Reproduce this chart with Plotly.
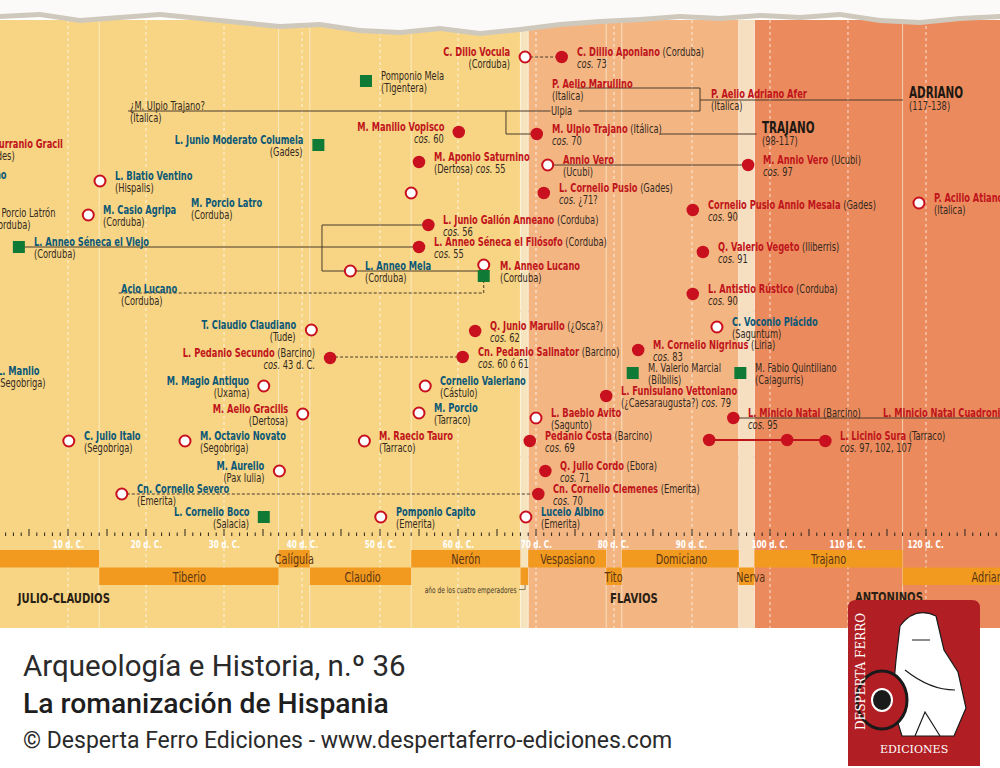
import plotly.graph_objects as go

# ---------------- visible span of the time axis (years) ----------------
XMIN, XMAX = 1.28, 129.49

# ---------------- timeline ----------------
tick_years = [10, 20, 30, 40, 50, 60, 70, 80, 90, 100, 110, 120, 130]
tick_labels = ["10 d. C.", "20 d. C.", "30 d. C.", "40 d. C.", "50 d. C.", "60 d. C.", "70 d. C.",
               "80 d. C.", "90 d. C.", "100 d. C.", "110 d. C.", "120 d. C.", "130 d. C."]

# ---------------- dynasties ----------------
dyn_names = ["JULIO-CLAUDIOS", "FLAVIOS", "ANTONINOS"]
dyn_start = [-27, 69, 98]
dyn_end = [68, 96, 192]
dyn_label_year = [3.2, 82.6, 110.9]
gap_start = [68, 96]
gap_end = [69, 98]

# ---------------- emperors ----------------
emperors = ["Augusto", "Tiberio", "Calígula", "Claudio", "Nerón", "", "Vespasiano", "Tito",
            "Domiciano", "Nerva", "Trajano", "Adriano"]
emp_start = [-27, 14, 37, 41, 54, 68, 69, 79, 81, 96, 98, 117]
emp_end = [14, 37, 41, 54, 68, 69, 79, 81, 96, 98, 117, 138]
emp_row = [1, 2, 1, 2, 1, 2, 1, 2, 1, 2, 1, 2]
emp_label_year = [-6, 25.5, 39, 47.8, 61, 68.5, 74, 80, 88.6, 97.6, 107.5, 128.3]

# ---------------- people: (name, place, second line, year, lane, mark, rank) ----------------
# mark: cos = cónsul, open = otro cargo, sq = escritor, none = sin marca
# rank: sen = senatorial (red), eq = ecuestre (teal), lit = otros (dark)
people_top = [
    ("C. Dilio Vocula", "", "(Corduba)", 68.6, 57, "open", "sen"),
    ("C. Dillio Aponiano", "(Corduba)", "cos. 73", 73.3, 57, "cos", "sen"),
    ("Pomponio Mela", "", "(Tigentera)", 48.2, 81, "sq", "lit"),
    ("P. Aelio Marullino", "", "(Italica)", 71.8, 89, "none", "sen"),
    ("P. Aelio Adriano Afer", "", "(Italica)", 92.2, 99, "none", "sen"),
    ("¿M. Ulpio Trajano?", "", "(Italica)", 17.7, 111, "none", "lit"),
    ("M. Manilio Vopisco", "", "cos. 60", 60.1, 132, "cos", "sen"),
    ("M. Ulpio Trajano", "(Itálica)", "cos. 70", 70.1, 134, "cos", "sen"),
    ("C. Turranio Gracil", "", "(Gades)", -1.3, 149, "none", "sen"),
    ("L. Junio Moderato Columela", "", "(Gades)", 42.1, 145, "sq", "eq"),
    ("M. Aponio Saturnino", "", "(Dertosa) cos. 55", 55.0, 162, "cos", "sen"),
    ("Annio Vero", "", "(Ucubi)", 71.5, 165, "open", "sen"),
    ("M. Annio Vero", "(Ucubi)", "cos. 97", 97.2, 165, "cos", "sen"),
    ("Cornelio Balbo Gaditano", "", "", 2.3, 180, "none", "eq"),
    ("L. Blatio Ventino", "", "(Hispalis)", 14.1, 181, "open", "eq"),
    ("L. Cornelio Pusio", "(Gades)", "cos. ¿71?", 71.0, 193, "cos", "sen"),
    ("", "", "", 54.0, 193, "open", "sen"),
    ("P. Acilio Atiano", "", "(Italica)", 119.1, 203, "open", "sen"),
    ("M. Porcio Latro", "", "(Corduba)", 25.5, 208, "none", "eq"),
    ("M. Casio Agripa", "", "(Corduba)", 12.6, 215, "open", "eq"),
    ("M. Porcio Latrón", "", "(Corduba)", -0.35, 218, "none", "lit"),
    ("Cornelio Pusio Annio Mesala", "(Gades)", "cos. 90", 90.1, 210, "cos", "sen"),
    ("L. Junio Galión Anneano", "(Corduba)", "cos. 56", 56.2, 225, "cos", "sen"),
    ("L. Anneo Séneca el Filósofo", "(Corduba)", "cos. 55", 55.0, 247, "cos", "sen"),
    ("L. Anneo Séneca el Viejo", "", "(Corduba)", 3.7, 247, "sq", "eq"),
    ("Q. Valerio Vegeto", "(Iliberris)", "cos. 91", 91.4, 252, "cos", "sen"),
    ("L. Anneo Mela", "", "(Corduba)", 46.2, 271, "open", "eq"),
    ("M. Anneo Lucano", "", "(Corduba)", 65.1, 271, "none", "sen"),
    ("", "", "", 63.3, 265, "open", "sen"),
    ("", "", "", 63.3, 276, "sq", "lit"),
    ("Acio Lucano", "", "(Corduba)", 16.5, 294, "none", "eq"),
    ("L. Antistio Rústico", "(Corduba)", "cos. 90", 90.1, 294, "cos", "sen"),
]
people_mid = [
    ("T. Claudio Claudiano", "", "(Tude)", 41.2, 330, "open", "eq"),
    ("Q. Junio Marullo", "(¿Osca?)", "cos. 62", 62.2, 331, "cos", "sen"),
    ("C. Voconio Plácido", "", "(Saguntum)", 93.2, 327, "open", "eq"),
    ("M. Cornelio Nigrinus", "(Liria)", "cos. 83", 83.1, 350, "cos", "sen"),
    ("L. Pedanio Secundo", "(Barcino)", "cos. 43 d. C.", 43.6, 358, "cos", "sen"),
    ("Cn. Pedanio Salinator", "(Barcino)", "cos. 60 ó 61", 60.6, 357, "cos", "sen"),
    ("L. Manlio", "", "(Segobriga)", 0.64, 376, "none", "eq"),
    ("M. Magio Antiquo", "", "(Uxama)", 35.1, 386, "open", "eq"),
    ("Cornelio Valeriano", "", "(Cástulo)", 55.8, 386, "open", "eq"),
    ("M. Valerio Marcial", "", "(Bílbilis)", 82.4, 373, "sq", "lit"),
    ("M. Fabio Quintiliano", "", "(Calagurris)", 96.2, 373, "sq", "lit"),
    ("L. Funisulano Vettoniano", "", "(¿Caesaraugusta?) cos. 79", 79.0, 396, "cos", "sen"),
    ("M. Aelio Gracilis", "", "(Dertosa)", 40.1, 414, "open", "sen"),
    ("M. Porcio", "", "(Tarraco)", 55.0, 413, "open", "eq"),
    ("L. Baebio Avito", "", "(Sagunto)", 70.0, 418, "open", "sen"),
    ("L. Minicio Natal", "(Barcino)", "cos. 95", 95.3, 418, "cos", "sen"),
    ("L. Minicio Natal Cuadronio Vero", "", "", 114.2, 418, "none", "sen"),
    ("C. Julio Italo", "", "(Segobriga)", 10.1, 441, "open", "eq"),
    ("M. Octavio Novato", "", "(Segobriga)", 25.0, 441, "open", "eq"),
    ("M. Raecio Tauro", "", "(Tarraco)", 48.0, 441, "open", "sen"),
    ("Pedanio Costa", "(Barcino)", "cos. 69", 69.2, 441, "cos", "sen"),
    ("", "", "", 92.2, 440, "cos", "sen"),
    ("", "", "", 102.2, 440, "cos", "sen"),
    ("L. Licinio Sura", "(Tarraco)", "cos. 97, 102, 107", 107.1, 441, "cos", "sen"),
]
people_bottom = [
    ("M. Aurelio", "", "(Pax Iulia)", 37.1, 471, "open", "eq"),
    ("Q. Julio Cordo", "(Ebora)", "cos. 71", 71.2, 471, "cos", "sen"),
    ("Cn. Cornelio Severo", "", "(Emerita)", 16.9, 494, "open", "eq"),
    ("Cn. Cornelio Clemenes", "(Emerita)", "cos. 70", 70.3, 494, "cos", "sen"),
    ("L. Cornelio Boco", "", "(Salacia)", 35.1, 517, "sq", "eq"),
    ("Pomponio Capito", "", "(Emerita)", 50.1, 517, "open", "eq"),
    ("Luceio Albino", "", "(Emerita)", 68.7, 517, "open", "eq"),
]
left_labels = {"C. Dilio Vocula", "M. Manilio Vopisco", "L. Junio Moderato Columela",
               "T. Claudio Claudiano", "L. Pedanio Secundo", "M. Magio Antiquo",
               "M. Aelio Gracilis", "M. Aurelio", "L. Cornelio Boco", "Cornelio Balbo Gaditano"}

rulers = ["ADRIANO", "TRAJANO"]
ruler_years = ["(117-138)", "(98-117)"]
ruler_x = [117.6, 98.7]
ruler_lane = [100, 135]

# family / career links (year, lane polylines)
solid_links = [
    ([17.7, 91.03], [111, 111]),
    ([75.26, 91.03, 91.03], [88, 88, 111]),
    ([91.03, 117.05], [100, 100]),
    ([66.15, 66.15, 70.1], [111, 134, 134]),
    ([85.9, 98.3], [134, 134]),
    ([71.5, 97.2], [165, 165]),
    ([3.7, 55.0], [247, 247]),
    ([56.2, 42.56, 42.56, 63.3], [225, 225, 271, 271]),
    ([95.3, 131.0], [418, 418]),
]
dashed_links = [
    ([68.6, 73.3], [57, 57]),
    ([43.6, 60.6], [357, 357]),
    ([16.5, 63.3, 63.3], [293, 293, 276]),
    ([16.9, 70.3], [494, 494]),
]
red_links = [([92.2, 107.1], [440, 440])]

# ---------------- styling ----------------
FONT = "DejaVu Sans Condensed, sans-serif"
RED = "#C0141B"
TEAL = "#0C5877"
DARK = "#33291E"
RANKCOL = {"sen": RED, "eq": TEAL, "lit": DARK}
ERA_COL = ["#F7D584", "#F3B683", "#EB8B5D"]
GAP_COL = ["#F6E4BE", "#F6DEC0"]
ORANGE = "#F29A1F"
PPY = 1000.0 / (XMAX - XMIN)

fig = go.Figure()
shapes = []
ann = []


def rect(x0, x1, y0, y1, color, xref="x", layer="below", opacity=1.0):
    shapes.append(dict(type="rect", xref=xref, yref="y", x0=x0, x1=x1, y0=y0, y1=y1,
                       fillcolor=color, line=dict(width=0), layer=layer, opacity=opacity))


# backgrounds
for s, e, c in zip(dyn_start, dyn_end, ERA_COL):
    rect(s, e, 20, 628, c)
for s, e, c in zip(gap_start, gap_end, GAP_COL):
    rect(s, e, 20, 628, c)

# vertical guide lines
for y in range(10, 131, 10):
    shapes.append(dict(type="line", xref="x", yref="y", x0=y, x1=y, y0=20, y1=628,
                       line=dict(color="rgba(255,255,255,0.75)", width=1, dash="dot"), layer="below"))
for y in emp_start[1:]:
    shapes.append(dict(type="line", xref="x", yref="y", x0=y, x1=y, y0=20, y1=628,
                       line=dict(color="rgba(255,250,235,0.6)", width=1), layer="below"))

# red section separators
for lane in [311, 457]:
    shapes.append(dict(type="line", xref="paper", yref="y", x0=0, x1=1, y0=lane, y1=lane,
                       line=dict(color="#C4262C", width=1.6), layer="below"))

# emperor rows
rect(0, 1, 550, 585, "rgba(255,255,255,0.22)", xref="paper")
for name, s, e, r, lx in zip(emperors, emp_start, emp_end, emp_row, emp_label_year):
    y0 = 550 if r == 1 else 567.5
    rect(s, e, y0, y0 + 17.5, ORANGE)
    if name and XMIN <= lx <= XMAX:
        ann.append(dict(x=lx, y=y0 + 9, xref="x", yref="y", text=name, showarrow=False,
                        font=dict(family=FONT, size=14, color="#5A3512")))
rect(0, 1, 585, 587, "rgba(255,255,255,0.8)", xref="paper")

# timeline band
rect(0, 1, 536, 550, "#151210", xref="paper")
for y, lab in zip(tick_years, tick_labels):
    ann.append(dict(x=y, y=543.5, xref="x", yref="y", text=f"<b>{lab}</b>", showarrow=False,
                    font=dict(family=FONT, size=10.5, color="white")))
tx, ty = [], []
for y in range(2, 131):
    tx += [y, y, None]
    top = 529 if y % 5 == 0 else 532.5
    ty += [536, top, None]
fig.add_trace(go.Scatter(x=tx, y=ty, mode="lines", line=dict(color="#2A221A", width=1),
                         hoverinfo="skip", showlegend=False))

# dynasty labels
for n, lx in zip(dyn_names[:2], dyn_label_year[:2]):
    ann.append(dict(x=lx, y=598, xref="x", yref="y", text=f"<b>{n}</b>", showarrow=False,
                    xanchor="left" if n == "JULIO-CLAUDIOS" else "center",
                    align="left" if n == "JULIO-CLAUDIOS" else "center",
                    font=dict(family=FONT, size=14.5, color="#2A1F14")))
fig.add_trace(go.Scatter(x=[dyn_label_year[2]], y=[598], mode="text", text=[f"<b>{dyn_names[2]}</b>"],
                         textposition="middle right",
                         textfont=dict(family=FONT, size=14.5, color="#2A1F14"),
                         hoverinfo="skip", showlegend=False))
ann.append(dict(x=67.7, y=589.5, xref="x", yref="y", text="año de los cuatro emperadores",
                showarrow=False, xanchor="right", align="right",
                font=dict(family=FONT, size=8.5, color="#4A3A2A")))
fig.add_trace(go.Scatter(x=[67.8, 68.6, 68.6], y=[589.5, 589.5, 585], mode="lines",
                         line=dict(color="#6A5A4A", width=0.8), hoverinfo="skip", showlegend=False))

# links
for xs, ys in solid_links:
    fig.add_trace(go.Scatter(x=xs, y=ys, mode="lines", line=dict(color="#4A3B2C", width=1),
                             hoverinfo="skip", showlegend=False))
for xs, ys in dashed_links:
    fig.add_trace(go.Scatter(x=xs, y=ys, mode="lines",
                             line=dict(color="#4A3B2C", width=1, dash="3px,2px"),
                             hoverinfo="skip", showlegend=False))
for xs, ys in red_links:
    fig.add_trace(go.Scatter(x=xs, y=ys, mode="lines", line=dict(color=RED, width=2.2),
                             hoverinfo="skip", showlegend=False))

ann.append(dict(x=71.75, y=110.5, xref="x", yref="y", text="Ulpia", showarrow=False,
                xanchor="left", align="left", bgcolor=ERA_COL[1], borderpad=0,
                font=dict(family=FONT, size=12, color=DARK)))

# markers and labels
people = people_top + people_mid + people_bottom
mk = {"cos": ([], []), "open": ([], []), "sq": ([], [])}
for name, place, sub, yr, lane, mark, rank in people:
    if mark in mk:
        mk[mark][0].append(yr)
        mk[mark][1].append(lane)
    if not name:
        continue
    side = "left" if name in left_labels else "right"
    off = 0 if mark == "none" else 13
    xs = off if side == "right" else -off
    x = yr
    if x < XMIN:
        xs += (x - XMIN) * PPY
        x = XMIN
    col = RANKCOL[rank]
    nm = name if rank == "lit" else f"<b>{name}</b>"
    t1 = f"<span style='color:{col}'>{nm}</span>"
    if place:
        t1 += f" <span style='color:{DARK}'>{place}</span>"
    xa = "left" if side == "right" else "right"
    ann.append(dict(x=x, y=lane - 5.5, xref="x", yref="y", text=t1, showarrow=False,
                    xanchor=xa, align=xa, xshift=xs, font=dict(family=FONT, size=12, color=col)))
    if sub:
        t2 = sub.replace("cos.", "<i>cos.</i>")
        ann.append(dict(x=x, y=lane + 6.5, xref="x", yref="y", text=t2, showarrow=False,
                        xanchor=xa, align=xa, xshift=xs, font=dict(family=FONT, size=12, color=DARK)))

fig.add_trace(go.Scatter(x=mk["cos"][0], y=mk["cos"][1], mode="markers",
                         marker=dict(size=12.5, color="#C8101E", line=dict(width=0)),
                         hoverinfo="skip", showlegend=False))
fig.add_trace(go.Scatter(x=mk["open"][0], y=mk["open"][1], mode="markers",
                         marker=dict(size=11, color="white", line=dict(width=2, color="#C8101E")),
                         hoverinfo="skip", showlegend=False))
fig.add_trace(go.Scatter(x=mk["sq"][0], y=mk["sq"][1], mode="markers",
                         marker=dict(size=12, symbol="square", color="#0F7A35", line=dict(width=0)),
                         hoverinfo="skip", showlegend=False))

for r, ry, rx, rl in zip(rulers, ruler_years, ruler_x, ruler_lane):
    ann.append(dict(x=rx, y=rl - 7, xref="x", yref="y", text=f"<b>{r}</b>", showarrow=False,
                    xanchor="left", align="left", font=dict(family=FONT, size=15, color="#1E1812")))
    ann.append(dict(x=rx, y=rl + 6, xref="x", yref="y", text=ry, showarrow=False,
                    xanchor="left", align="left", font=dict(family=FONT, size=12, color=DARK)))

# torn paper edge at the top
edge_x = [i / 25 for i in range(26)]
edge_y = [14, 12, 18, 15, 12, 16, 20, 24, 22, 28, 30, 26, 31, 27, 22, 19, 17, 14, 16, 13, 15, 12, 18, 20, 16, 14]
p = "M 0,0 L 1,0 " + " ".join(f"L {x:.3f},{y + 5}" for x, y in zip(edge_x[::-1], edge_y[::-1])) + " Z"
shapes.append(dict(type="path", xref="paper", yref="y", path=p, fillcolor="#CFC8BD",
                   line=dict(width=0), layer="above"))
p = "M 0,0 L 1,0 " + " ".join(f"L {x:.3f},{y}" for x, y in zip(edge_x[::-1], edge_y[::-1])) + " Z"
shapes.append(dict(type="path", xref="paper", yref="y", path=p, fillcolor="#FBFAF8",
                   line=dict(width=0), layer="above"))

# publisher logo
shapes.append(dict(type="path", xref="paper", yref="y", layer="above",
                   path="M 0.856,600 L 0.972,600 Q 0.980,600 0.980,608 L 0.980,766 L 0.848,766 "
                        "L 0.848,608 Q 0.848,600 0.856,600 Z",
                   fillcolor="#B11F24", line=dict(width=0)))
shapes.append(dict(type="path", xref="paper", yref="y", layer="above",
                   path="M 0.900,626 Q 0.915,606 0.936,616 L 0.944,650 L 0.958,672 L 0.966,708 "
                        "L 0.954,736 L 0.902,736 L 0.892,704 L 0.896,660 Z",
                   fillcolor="white", line=dict(color="#1A1A1A", width=1.2)))
shapes.append(dict(type="path", xref="paper", yref="y", layer="above",
                   path="M 0.912,640 L 0.930,640 M 0.905,670 Q 0.930,690 0.955,690 "
                        "M 0.915,736 L 0.925,712 L 0.940,736",
                   line=dict(color="#1A1A1A", width=1.2)))
shapes.append(dict(type="circle", xref="paper", yref="y", layer="above",
                   x0=0.857, x1=0.907, y0=671, y1=729, fillcolor="#B11F24",
                   line=dict(color="#1A1A1A", width=3)))
shapes.append(dict(type="circle", xref="paper", yref="y", layer="above",
                   x0=0.872, x1=0.892, y0=689, y1=711, fillcolor="#1A1A1A",
                   line=dict(color="white", width=2)))
ann.append(dict(x=0.861, y=672, xref="paper", yref="y", text="DESPERTA FERRO", textangle=-90,
                showarrow=False, xanchor="center", yanchor="middle",
                font=dict(family="DejaVu Serif, serif", size=12, color="white")))
ann.append(dict(x=0.914, y=749, xref="paper", yref="y", text="EDICIONES", showarrow=False,
                xanchor="center", yanchor="middle",
                font=dict(family="DejaVu Serif, serif", size=11, color="white")))

# footer
ann.append(dict(x=0.021, y=666, xref="paper", yref="y", text="Arqueología e Historia, n.º 36",
                showarrow=False, xanchor="left",
                font=dict(family="Roboto, sans-serif", size=29.5, color="#2A2A2A")))
ann.append(dict(x=0.021, y=703, xref="paper", yref="y", text="La romanización de Hispania",
                showarrow=False, xanchor="left",
                font=dict(family="Roboto, sans-serif", size=28.3, color="#1E1E1E", weight=500)))
ann.append(dict(x=0.021, y=740, xref="paper", yref="y",
                text="© Desperta Ferro Ediciones - www.despertaferro-ediciones.com",
                showarrow=False, xanchor="left",
                font=dict(family="Roboto, sans-serif", size=23, color="#2A2A2A")))

fig.update_layout(
    width=1000, height=768, margin=dict(l=0, r=0, t=0, b=0),
    paper_bgcolor="white", plot_bgcolor="rgba(0,0,0,0)",
    xaxis=dict(range=[XMIN, XMAX], visible=False, fixedrange=True),
    yaxis=dict(range=[768, 0], visible=False, fixedrange=True),
    shapes=shapes, annotations=ann, showlegend=False,
)

# page set-up: no body margin; condensed rendering of the timeline lettering
POST = """
document.body.style.margin = '0px';
document.body.style.overflow = 'hidden';
var gd = document.getElementById('{plot_id}');
function squeeze() {
  gd.querySelectorAll('text.annotation-text, g.textpoint text').forEach(function (t) {
    var ff = t.style.fontFamily || '';
    if (ff.indexOf('Condensed') < 0) return;
    var a = t.getAttribute('text-anchor') || 'start';
    t.style.transformBox = 'fill-box';
    t.style.transformOrigin = a === 'start' ? 'left center' : (a === 'end' ? 'right center' : 'center center');
    t.style.transform = 'scaleX(0.77)';
  });
}
squeeze();
gd.on('plotly_afterplot', squeeze);
"""
fig.write_html("out.html", post_script=POST, config={"displayModeBar": False})
